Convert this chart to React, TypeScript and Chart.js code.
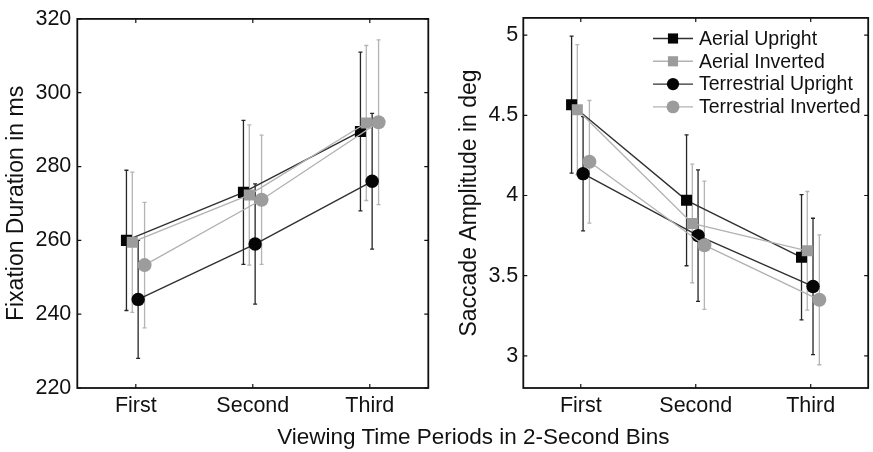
import React, { useEffect, useRef } from "react";
import { Chart, registerables } from "chart.js";

Chart.register(...registerables);

// ---------------- data ----------------
const categories = ["First", "Second", "Third"];
const seriesNames = ["Aerial Upright", "Aerial Inverted", "Terrestrial Upright", "Terrestrial Inverted"];

// Fixation duration (ms): means and half-width of error bars
const fixAerialUpright = [260, 273, 289.5];
const fixAerialUprightErr = [19, 19.5, 21.5];
const fixAerialInverted = [259.5, 272.3, 291.8];
const fixAerialInvertedErr = [19, 19, 21];
const fixTerrestrialUpright = [244, 259, 276];
const fixTerrestrialUprightErr = [16, 16.3, 18.4];
const fixTerrestrialInverted = [253.3, 271, 292];
const fixTerrestrialInvertedErr = [17, 17.5, 22.3];

// Saccade amplitude (deg)
const sacAerialUpright = [4.566, 3.97, 3.615];
const sacAerialUprightErr = [0.427, 0.408, 0.39];
const sacAerialInverted = [4.535, 3.826, 3.655];
const sacAerialInvertedErr = [0.405, 0.37, 0.37];
const sacTerrestrialUpright = [4.136, 3.75, 3.433];
const sacTerrestrialUprightErr = [0.356, 0.41, 0.425];
const sacTerrestrialInverted = [4.21, 3.69, 3.35];
const sacTerrestrialInvertedErr = [0.382, 0.4, 0.405];

const fixYTicks = [220, 240, 260, 280, 300, 320];
const sacYTicks = [3, 3.5, 4, 4.5, 5];

// ---------------- styles ----------------
const FONT = '"Liberation Sans", Arial, Helvetica, sans-serif';
const SERIES_STYLE = [
  { marker: "rect", fill: "#050505", line: "#303030", bar: "#262626", radius: 7.8 },
  { marker: "rect", fill: "#9c9c9c", line: "#b2b2b2", bar: "#b4b4b4", radius: 7.8 },
  { marker: "circle", fill: "#050505", line: "#303030", bar: "#262626", radius: 6.7 },
  { marker: "circle", fill: "#9c9c9c", line: "#b2b2b2", bar: "#b4b4b4", radius: 7 },
];
const GROUP_SHIFT = [-0.08, -0.03, 0.02, 0.075];

function buildDatasets(values: number[][], errors: number[][]) {
  return values.map((vals, s) => {
    const st = SERIES_STYLE[s];
    return {
      label: seriesNames[s],
      data: vals.map((v, i) => ({ x: i + 1 + GROUP_SHIFT[s], y: v })),
      errors: errors[s],
      barColor: st.bar,
      borderColor: st.line,
      borderWidth: 1.4,
      pointStyle: st.marker,
      pointRadius: st.radius,
      pointHoverRadius: st.radius,
      pointBackgroundColor: st.fill,
      pointBorderColor: st.fill,
      pointBorderWidth: 0,
      order: 4 - s,
      tension: 0,
      fill: false,
    } as any;
  });
}

const errorBarPlugin = {
  id: "errorBars",
  beforeDatasetsDraw(chart: any) {
    const { ctx } = chart;
    const xs = chart.scales.x;
    const ys = chart.scales.y;
    ctx.save();
    chart.data.datasets.forEach((ds: any) => {
      ctx.strokeStyle = ds.barColor;
      ctx.lineWidth = 1.3;
      ds.data.forEach((p: any, i: number) => {
        const e = ds.errors[i];
        const x = xs.getPixelForValue(p.x);
        const yt = ys.getPixelForValue(p.y + e);
        const yb = ys.getPixelForValue(p.y - e);
        ctx.beginPath();
        ctx.moveTo(x, yt);
        ctx.lineTo(x, yb);
        ctx.moveTo(x - 2, yt);
        ctx.lineTo(x + 2, yt);
        ctx.moveTo(x - 2, yb);
        ctx.lineTo(x + 2, yb);
        ctx.stroke();
      });
    });
    ctx.restore();
  },
};

const boxPlugin = {
  id: "boxTicks",
  afterDatasetsDraw(chart: any) {
    const { ctx, chartArea } = chart;
    const { left, right, top, bottom } = chartArea;
    const xs = chart.scales.x;
    const ys = chart.scales.y;
    ctx.save();
    ctx.strokeStyle = "#111";
    ctx.lineWidth = 1.8;
    ctx.strokeRect(left, top, right - left, bottom - top);
    ctx.lineWidth = 1.2;
    ctx.beginPath();
    ys.ticks.forEach((t: any) => {
      const y = ys.getPixelForValue(t.value);
      ctx.moveTo(left, y);
      ctx.lineTo(left + 4, y);
      ctx.moveTo(right, y);
      ctx.lineTo(right - 4, y);
    });
    xs.ticks.forEach((t: any) => {
      const x = xs.getPixelForValue(t.value);
      ctx.moveTo(x, bottom);
      ctx.lineTo(x, bottom - 4);
      ctx.moveTo(x, top);
      ctx.lineTo(x, top + 4);
    });
    ctx.stroke();
    ctx.restore();
  },
};

const legendPlugin = {
  id: "lineLegend",
  afterDraw(chart: any) {
    const opts = chart.options.plugins.lineLegend;
    if (!opts || !opts.show) return;
    const { ctx } = chart;
    ctx.save();
    ctx.font = `19.5px ${FONT}`;
    ctx.textBaseline = "middle";
    ctx.textAlign = "left";
    chart.data.datasets.forEach((ds: any, i: number) => {
      const y = opts.y + i * opts.rowGap;
      const x0 = opts.x;
      const x1 = opts.x + opts.lineLen;
      const cx = (x0 + x1) / 2;
      ctx.strokeStyle = ds.borderColor;
      ctx.lineWidth = 1.4;
      ctx.beginPath();
      ctx.moveTo(x0, y);
      ctx.lineTo(x1, y);
      ctx.stroke();
      ctx.fillStyle = ds.pointBackgroundColor;
      const r = ds.pointRadius * 0.92;
      ctx.beginPath();
      if (ds.pointStyle === "rect") {
        const h = r * Math.SQRT1_2;
        ctx.rect(cx - h, y - h, 2 * h, 2 * h);
      } else {
        ctx.arc(cx, y, r, 0, Math.PI * 2);
      }
      ctx.fill();
      ctx.fillStyle = "#111";
      ctx.fillText(ds.label, x1 + 6, y + 1);
    });
    ctx.restore();
  },
};

function makeOptions(cfg: {
  yMin: number;
  yMax: number;
  yTicks: number[];
  yTitle: string;
  yWidth: number;
  titlePad: number;
  tickPad: number;
  padRight: number;
  legend: any;
}) {
  return {
    responsive: false,
    animation: false,
    events: [],
    layout: { padding: { top: 16, right: cfg.padRight, left: 0, bottom: 0 } },
    plugins: {
      legend: { display: false },
      tooltip: { enabled: false },
      lineLegend: cfg.legend,
    },
    scales: {
      x: {
        type: "linear",
        min: 0.5,
        max: 3.5,
        afterBuildTicks: (s: any) => {
          s.ticks = categories.map((_, i) => ({ value: i + 1 }));
        },
        afterFit: (s: any) => {
          s.height = 64;
        },
        ticks: {
          autoSkip: false,
          maxRotation: 0,
          padding: 5,
          color: "#111",
          font: { family: FONT, size: 21.5 },
          callback: (v: any) => categories[Math.round(v) - 1] ?? "",
        },
        grid: { display: false, drawTicks: false },
        border: { display: false },
      },
      y: {
        type: "linear",
        min: cfg.yMin,
        max: cfg.yMax,
        afterBuildTicks: (s: any) => {
          s.ticks = cfg.yTicks.map((v) => ({ value: v }));
        },
        afterFit: (s: any) => {
          s.width = cfg.yWidth;
        },
        ticks: {
          padding: cfg.tickPad,
          color: "#111",
          font: { family: FONT, size: 21.5 },
          callback: (v: any) => String(v),
        },
        title: {
          display: true,
          text: cfg.yTitle,
          color: "#111",
          font: { family: FONT, size: 23 },
          padding: { top: cfg.titlePad, bottom: 0 },
        },
        grid: { display: false, drawTicks: false },
        border: { display: false },
      },
    },
  } as any;
}

export default function App() {
  const leftRef = useRef<HTMLCanvasElement>(null);
  const rightRef = useRef<HTMLCanvasElement>(null);

  useEffect(() => {
    const left = new Chart(leftRef.current as HTMLCanvasElement, {
      type: "line",
      data: {
        datasets: buildDatasets(
          [fixAerialUpright, fixAerialInverted, fixTerrestrialUpright, fixTerrestrialInverted],
          [fixAerialUprightErr, fixAerialInvertedErr, fixTerrestrialUprightErr, fixTerrestrialInvertedErr]
        ),
      },
      options: makeOptions({
        yMin: 220,
        yMax: 320,
        yTicks: fixYTicks,
        yTitle: "Fixation Duration in ms",
        yWidth: 77.3,
        titlePad: 3,
        tickPad: 6,
        padRight: 11.7,
        legend: { show: false },
      }),
      plugins: [errorBarPlugin, boxPlugin, legendPlugin],
    } as any);

    const right = new Chart(rightRef.current as HTMLCanvasElement, {
      type: "line",
      data: {
        datasets: buildDatasets(
          [sacAerialUpright, sacAerialInverted, sacTerrestrialUpright, sacTerrestrialInverted],
          [sacAerialUprightErr, sacAerialInvertedErr, sacTerrestrialUprightErr, sacTerrestrialInvertedErr]
        ),
      },
      options: makeOptions({
        yMin: 2.8,
        yMax: 5.107,
        yTicks: sacYTicks,
        yTitle: "Saccade Amplitude in deg",
        yWidth: 83.3,
        titlePad: 16,
        tickPad: 5,
        padRight: 0.8,
        legend: { show: true, x: 213, y: 38.5, rowGap: 22.8, lineLen: 40 },
      }),
      plugins: [errorBarPlugin, boxPlugin, legendPlugin],
    } as any);

    return () => {
      left.destroy();
      right.destroy();
    };
  }, []);

  return (
    <div
      style={{
        position: "absolute",
        left: 0,
        top: 0,
        width: 873,
        height: 452,
        overflow: "hidden",
        background: "#fff",
      }}
    >
      <canvas ref={leftRef} width={440} height={452} style={{ position: "absolute", left: 0, top: 0 }} />
      <canvas ref={rightRef} width={436} height={452} style={{ position: "absolute", left: 440, top: 0 }} />
      <div
        style={{
          position: "absolute",
          left: 473.3,
          top: 426,
          transform: "translateX(-50%)",
          whiteSpace: "nowrap",
          font: `22.5px/22px ${FONT}`,
          color: "#111",
        }}
      >
        Viewing Time Periods in 2-Second Bins
      </div>
    </div>
  );
}
